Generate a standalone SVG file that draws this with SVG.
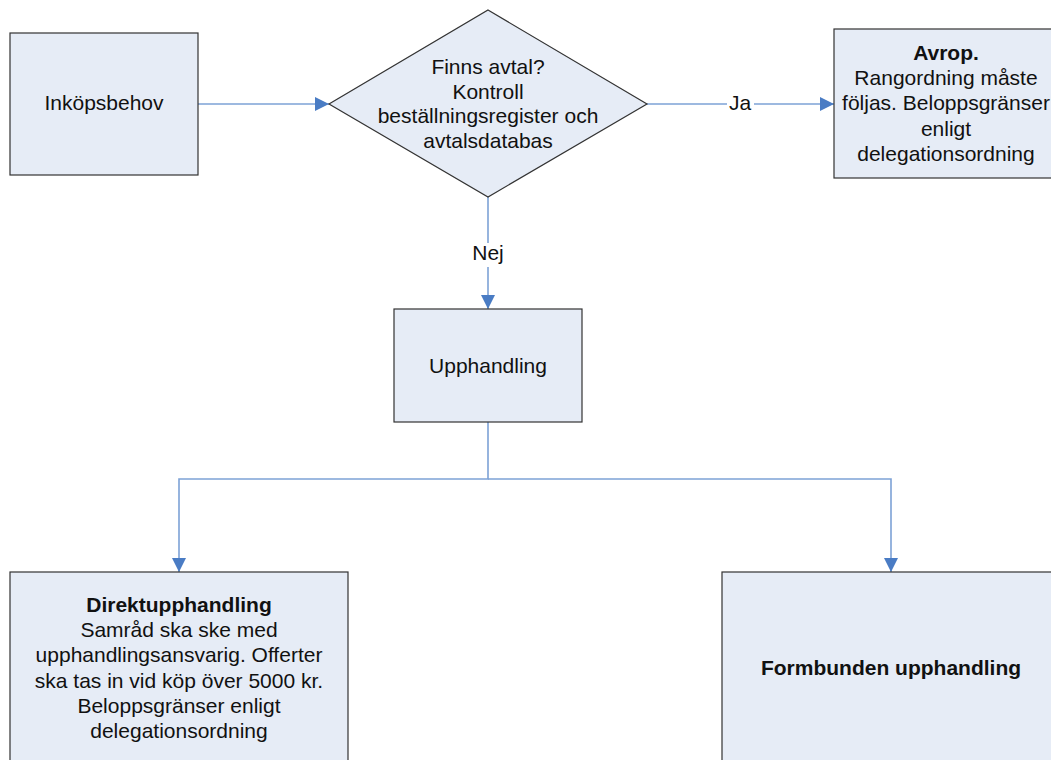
<svg xmlns="http://www.w3.org/2000/svg" width="1051" height="760" viewBox="0 0 1051 760">
  <style>
    .box { fill: #E6ECF6; stroke: #333333; stroke-width: 1.2; }
    .conn { fill: none; stroke: #7DA2D6; stroke-width: 1.6; }
    .t { font-family: "Liberation Sans", Arial, sans-serif; font-size: 21px; fill: #111111; text-anchor: middle; }
    .b { font-weight: bold; }
    .lblbg { fill: #ffffff; }
  </style>
  <defs>
    <marker id="arr" viewBox="0 0 10 10" refX="10" refY="5" markerWidth="15" markerHeight="14" markerUnits="userSpaceOnUse" orient="auto">
      <path d="M0,0 L10,5 L0,10 Z" fill="#4A7CC4"/>
    </marker>
  </defs>

  <g id="connectors">
    <line class="conn" x1="198" y1="104" x2="329" y2="104" marker-end="url(#arr)"/>
    <line class="conn" x1="647" y1="104" x2="834" y2="104" marker-end="url(#arr)"/>
    <rect class="lblbg" x="727" y="92" width="27" height="24"/>
    <text class="t" x="740" y="110">Ja</text>
    <line class="conn" x1="488" y1="197" x2="488" y2="309" marker-end="url(#arr)"/>
    <rect class="lblbg" x="472" y="243" width="32" height="24"/>
    <text class="t" x="488" y="260">Nej</text>
    <polyline class="conn" points="488,422 488,479 179,479 179,572" marker-end="url(#arr)"/>
    <polyline class="conn" points="488,479 891,479 891,572" marker-end="url(#arr)"/>
  </g>

  <g id="inkopsbehov">
    <rect class="box" x="10" y="33" width="188" height="142"/>
    <text class="t" x="104" y="110">Inköpsbehov</text>
  </g>

  <g id="finns-avtal">
    <polygon class="box" points="488,10 647,104 488,197 329,104"/>
    <text class="t" x="488" y="74">Finns avtal?</text>
    <text class="t" x="488" y="98.7">Kontroll</text>
    <text class="t" x="488" y="123.4">beställningsregister och</text>
    <text class="t" x="488" y="148.1">avtalsdatabas</text>
  </g>

  <g id="avrop">
    <rect class="box" x="834" y="29" width="226" height="149"/>
    <text class="t b" x="946" y="60">Avrop.</text>
    <text class="t" x="946" y="85.2">Rangordning måste</text>
    <text class="t" x="946" y="110.4">följas. Beloppsgränser</text>
    <text class="t" x="946" y="135.6">enligt</text>
    <text class="t" x="946" y="160.8">delegationsordning</text>
  </g>

  <g id="upphandling">
    <rect class="box" x="394" y="309" width="188" height="113"/>
    <text class="t" x="488" y="373">Upphandling</text>
  </g>

  <g id="direktupphandling">
    <rect class="box" x="10" y="572" width="338" height="200"/>
    <text class="t b" x="179" y="612">Direktupphandling</text>
    <text class="t" x="179" y="637.2">Samråd ska ske med</text>
    <text class="t" x="179" y="662.4">upphandlingsansvarig. Offerter</text>
    <text class="t" x="179" y="687.6">ska tas in vid köp över 5000 kr.</text>
    <text class="t" x="179" y="712.8">Beloppsgränser enligt</text>
    <text class="t" x="179" y="738">delegationsordning</text>
  </g>

  <g id="formbunden">
    <rect class="box" x="722" y="572" width="338" height="200"/>
    <text class="t b" x="891" y="675">Formbunden upphandling</text>
  </g>
</svg>
